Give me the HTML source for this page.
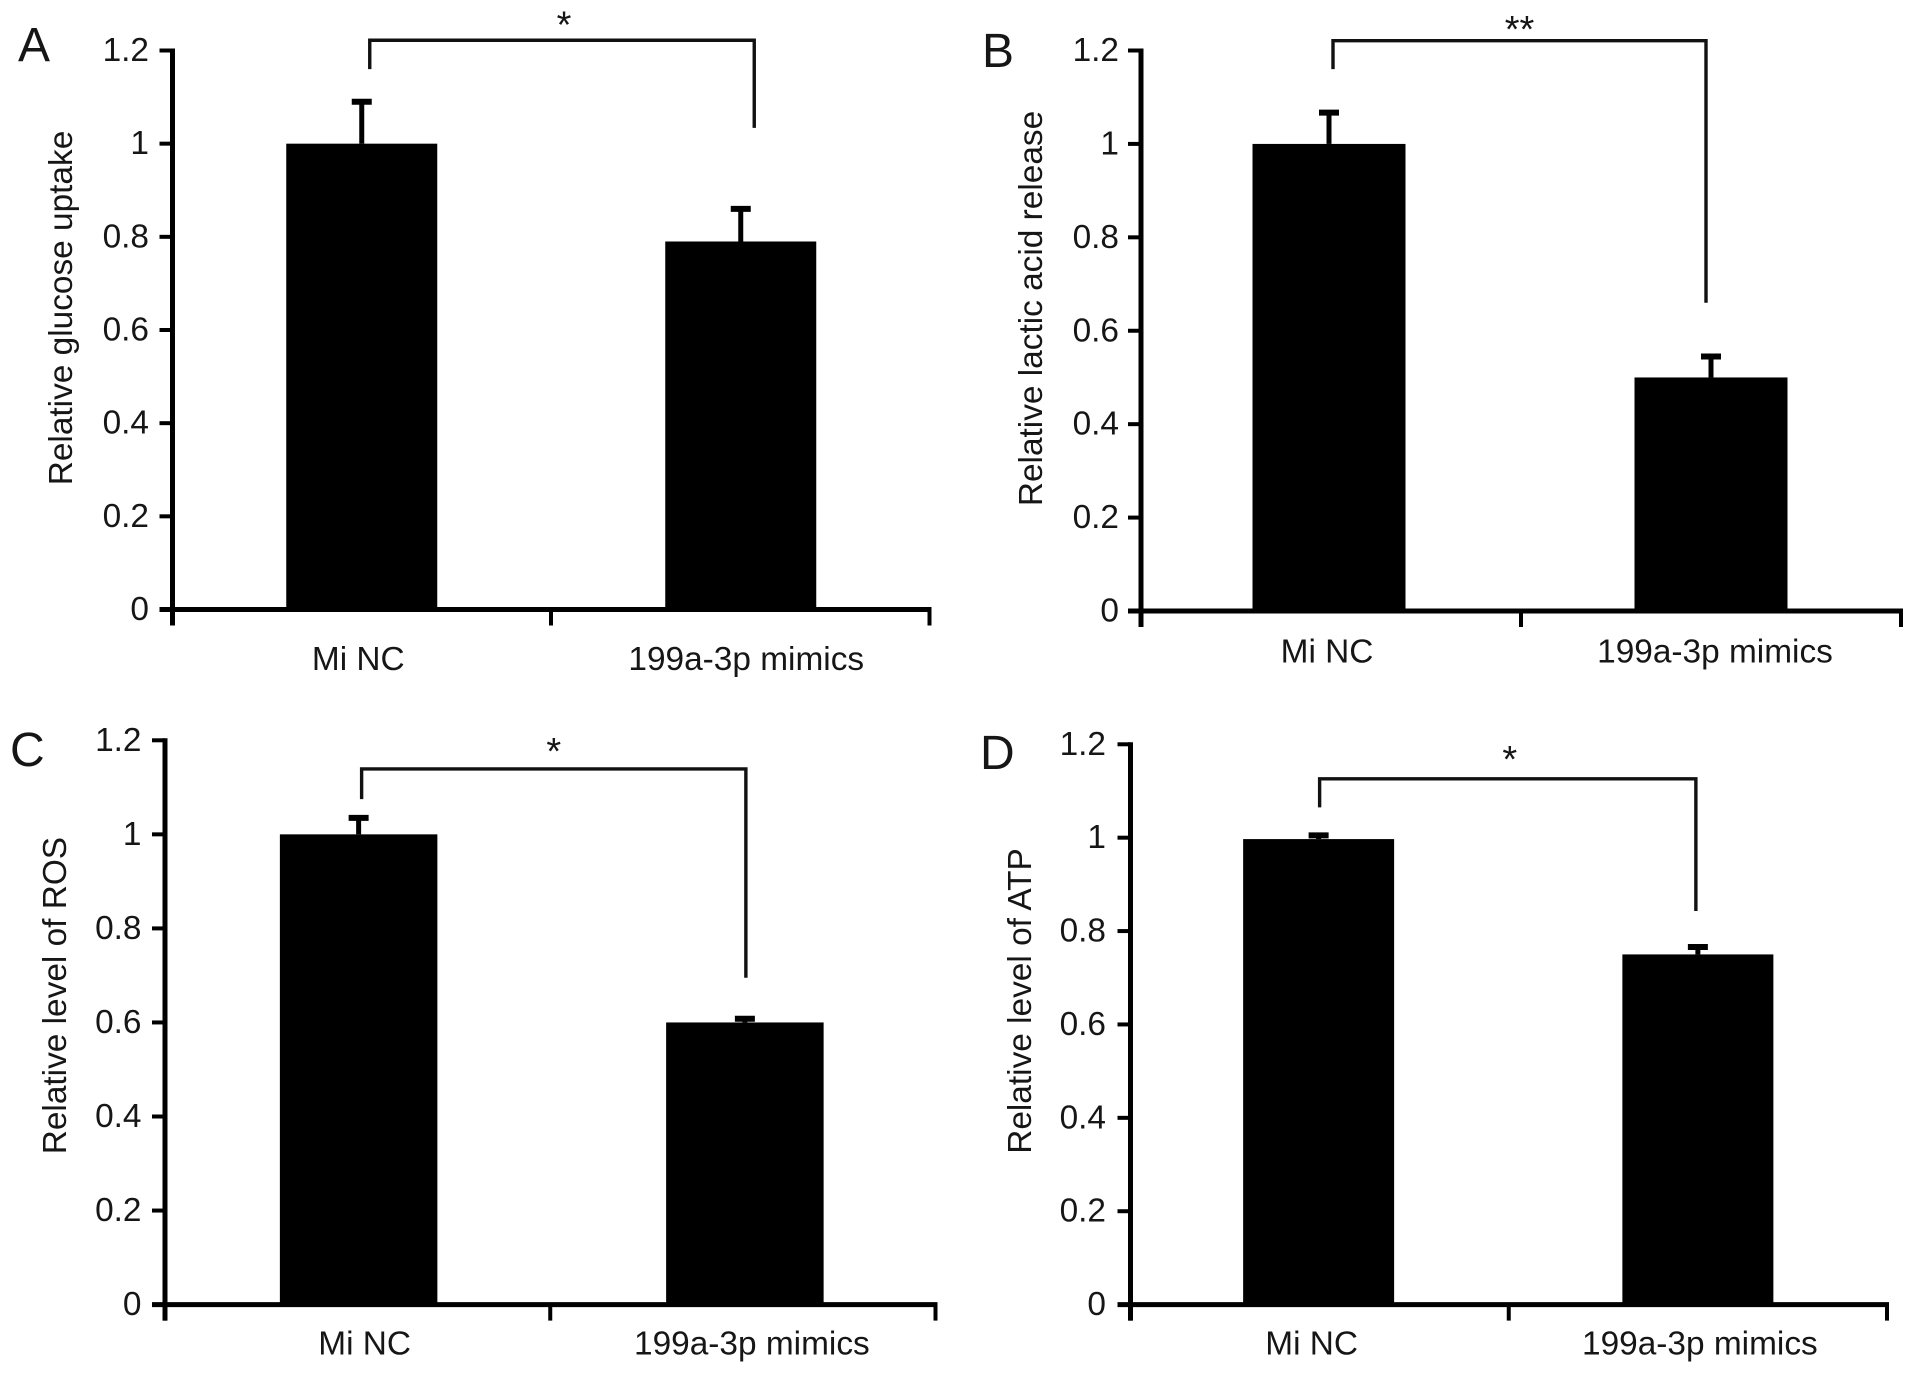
<!DOCTYPE html>
<html lang="en">
<head>
<meta charset="utf-8">
<title>Relative metabolic measures: Mi NC vs 199a-3p mimics</title>
<style>
html,body{margin:0;padding:0;background:#fff;width:1913px;height:1374px;overflow:hidden}
svg{display:block}
text{font-family:"Liberation Sans",Arial,sans-serif;fill:#161616}
</style>
</head>
<body>
<svg id="fig" xmlns="http://www.w3.org/2000/svg" width="1913" height="1374" viewBox="0 0 1913 1374"></svg>
<script>
// ---- Data ----
const categories = ['Mi NC', '199a-3p mimics'];
const yTickValues = [0, 0.2, 0.4, 0.6, 0.8, 1, 1.2];
const yTickLabels = ['0', '0.2', '0.4', '0.6', '0.8', '1', '1.2'];

const glucoseValues = [1, 0.79];
const glucoseErrors = [0.09, 0.07];
const lacticValues = [1, 0.5];
const lacticErrors = [0.067, 0.045];
const rosValues = [1, 0.6];
const rosErrors = [0.035, 0.008];
const atpValues = [0.997, 0.75];
const atpErrors = [0.008, 0.016];

// Bracket: [top level, left leg end, right leg end] in axis units
const glucoseBracket = [1.222, 1.16, 1.034];
const lacticBracket = [1.221, 1.16, 0.66];
const rosBracket = [1.139, 1.075, 0.695];
const atpBracket = [1.126, 1.065, 0.843];

// ---- Layout (pixel frame of each panel) ----
const panels = [
  {id:'a', letter:'A', title:'Relative glucose uptake', values:glucoseValues, errors:glucoseErrors, bracket:glucoseBracket, stars:'*',
   x0:172.5, x1:929.5, y0:609.5, y12:50.5, barW:151, barDx:[0,0.5], tickRight:149, titleX:61, titleY:308, labelY:670, labelDx:[-3.5,6],
   brDx:[8,14], starDx:2, starY:37.5, letterX:18, letterY:61},
  {id:'b', letter:'B', title:'Relative lactic acid release', values:lacticValues, errors:lacticErrors, bracket:lacticBracket, stars:'**',
   x0:1141, x1:1901, y0:611, y12:50.5, barW:153, barDx:[-2,0], tickRight:1119, titleX:1031, titleY:308.5, labelY:662.5, labelDx:[-4,4],
   brDx:[2,-5], starDx:0, starY:42, letterX:982, letterY:67},
  {id:'c', letter:'C', title:'Relative level of ROS', values:rosValues, errors:rosErrors, bracket:rosBracket, stars:'*',
   x0:165, x1:935.5, y0:1304.6, y12:740.3, barW:157.5, barDx:[1,2],  tickRight:141.5, titleX:55, titleY:995.6, labelY:1354.5, labelDx:[7,9],
   brDx:[4,3], starDx:0, starY:764, letterX:10, letterY:766},
  {id:'d', letter:'D', title:'Relative level of ATP', values:atpValues, errors:atpErrors, bracket:atpBracket, stars:'*',
   x0:1130.5, x1:1887, y0:1304.6, y12:744.3, barW:151, barDx:[-1,0], tickRight:1106, titleX:1020, titleY:1001, labelY:1354.5, labelDx:[-8,2],
   brDx:[0,-2], starDx:2, starY:772, letterX:980, letterY:769}
];

const NS = 'http://www.w3.org/2000/svg';
const fig = document.getElementById('fig');
function mk(parent, tag, attrs, txt){
  const el = document.createElementNS(NS, tag);
  for (const k in attrs) el.setAttribute(k, attrs[k]);
  if (txt !== undefined) el.textContent = txt;
  parent.appendChild(el);
  return el;
}

panels.forEach(function(p){
  const yScale = function(v){ return p.y0 - (v / 1.2) * (p.y0 - p.y12); };
  const band = (p.x1 - p.x0) / categories.length;
  const xLeft = function(i){ return p.x0 + band * i; };
  const xCenter = function(i){ return p.x0 + band * (i + 0.5); };

  const g = mk(fig, 'g', {});
  
  

  const letter = mk(g, 'text', {x:p.letterX, y:p.letterY, 'font-size':48}, p.letter);
  
  

  // bars and error bars
  p.values.forEach(function(v, i){
    const cx = xCenter(i) + p.barDx[i];
    const top = yScale(v);
    const errTop = yScale(v + p.errors[i]);

    const stem = mk(g, 'line', {x1:cx, x2:cx, y1:top, y2:errTop, stroke:'#000', 'stroke-width':5});
    
    

    const cap = mk(g, 'line', {x1:cx - 10, x2:cx + 10, y1:errTop, y2:errTop, stroke:'#000', 'stroke-width':6});
    
    

    const bar = mk(g, 'rect', {x:cx - p.barW / 2, y:top, width:p.barW, height:p.y0 - top, fill:'#000'});
    
    

    const lab = mk(g, 'text', {x:xCenter(i) + p.labelDx[i], y:p.labelY, 'font-size':33.4, 'text-anchor':'middle'}, categories[i]);
    
    
  });

  // axes
  const yAxis = mk(g, 'line', {x1:p.x0, x2:p.x0, y1:p.y12 - 2, y2:p.y0 + 16, stroke:'#000', 'stroke-width':5});
  
  

  const xAxis = mk(g, 'line', {x1:p.x0 - 13, x2:p.x1 + 2, y1:p.y0, y2:p.y0, stroke:'#000', 'stroke-width':5});
  
  

  yTickValues.forEach(function(t, i){
    const y = yScale(t);
    const tick = mk(g, 'line', {x1:p.x0 - 13, x2:p.x0, y1:y, y2:y, stroke:'#000', 'stroke-width':4});
    
    

    const lab = mk(g, 'text', {x:p.tickRight, y:y + 10.5, 'font-size':33.4, 'text-anchor':'end'}, yTickLabels[i]);
    
    
  });

  [0, 1, 2].forEach(function(i){
    const x = xLeft(i);
    const tick = mk(g, 'line', {x1:x, x2:x, y1:p.y0, y2:p.y0 + 16, stroke:'#000', 'stroke-width':4});
    
    
  });

  const title = mk(g, 'text', {transform:'translate(' + p.titleX + ',' + p.titleY + ') rotate(-90)', x:0, y:11, 'font-size':33.4, 'text-anchor':'middle'}, p.title);
  
  

  // significance bracket
  const bl = xCenter(0) + p.brDx[0];
  const br = xCenter(1) + p.brDx[1];
  const d = 'M' + bl + ' ' + yScale(p.bracket[1]) + ' V' + yScale(p.bracket[0]) + ' H' + br + ' V' + yScale(p.bracket[2]);
  const bracket = mk(g, 'path', {d:d, fill:'none', stroke:'#111', 'stroke-width':3.4});
  
  

  const star = mk(g, 'text', {x:(bl + br) / 2 + p.starDx, y:p.starY, 'font-size':38, 'text-anchor':'middle'}, p.stars);
  
  
});
</script>
</body>
</html>
